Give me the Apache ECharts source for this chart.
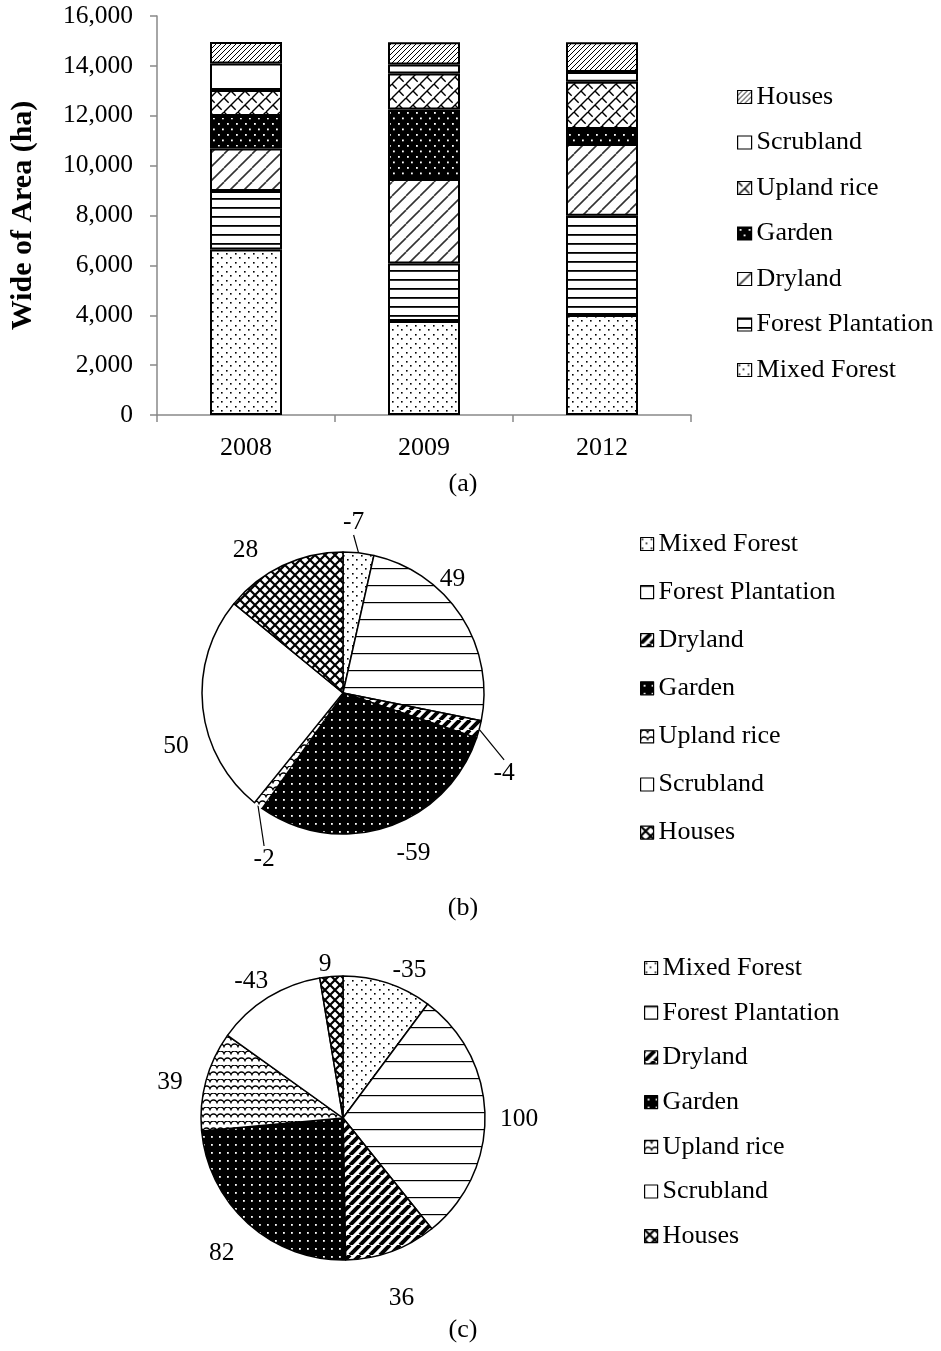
<!DOCTYPE html>
<html>
<head>
<meta charset="utf-8">
<script src="https://cdn.jsdelivr.net/npm/echarts@6/dist/echarts.min.js"></script>
<style>
  html, body { margin: 0; padding: 0; background: #fff; }
  .panel { position: absolute; left: 0; width: 941px; }
  #chartA { top: 0; height: 500px; }
  #chartB { top: 500px; height: 425px; }
  #chartC { top: 925px; height: 426px; }
</style>
</head>
<body>
<div id="chartA" class="panel"></div>
<div id="chartB" class="panel"></div>
<div id="chartC" class="panel"></div>
<script>
// (a) land cover area per year, ha
const years = ['2008', '2009', '2012']
const landTypes = ['Mixed Forest', 'Forest Plantation', 'Dryland', 'Garden', 'Upland rice', 'Scrubland', 'Houses']
const mixedForest = [6640, 3770, 4010]
const forestPlantation = [2340, 2310, 3980]
const dryland = [1710, 3380, 2875]
const garden = [1300, 2790, 600]
const uplandRice = [1040, 1445, 1900]
const scrubland = [1070, 360, 385]
const houses = [860, 895, 1200]
const yMax = 16000
const yStep = 2000

// (b) and (c) change values shown on the pies
const changeB = [-7, 49, -4, -59, -2, 50, 28]
const changeC = [-35, 100, 36, 82, 39, -43, 9]

// label nudges (px) so the numbers sit where the original put them
const nudgeB = [[-23, -9], [-45, -25], [-12, 38], [-2, 5], [35, 36], [13, 37], [-10, 5]]
const nudgeC = [[-7, 8], [-12, 4], [-15, 26], [6, 13], [3, 7], [17, 3], [7, 10]]

const FONT = '"Liberation Serif", "Times New Roman", serif'

// small canvas tiles used as fill patterns
function makePattern(w, h, bg, draw) {
  const c = document.createElement('canvas')
  c.width = w
  c.height = h
  const g = c.getContext('2d')
  g.fillStyle = bg
  g.fillRect(0, 0, w, h)
  g.fillStyle = '#000'
  g.strokeStyle = '#000'
  draw(g, w, h)
  return { image: c, repeat: 'repeat' }
}

function dots(pts, size, color) {
  return (g) => {
    g.fillStyle = color
    pts.forEach(([x, y]) => g.fillRect(x, y, size, size))
  }
}

function slash(lw, color) {
  return (g, w, h) => {
    g.strokeStyle = color
    g.lineWidth = lw
    for (let k = -1; k <= 1; k += 1) {
      g.beginPath()
      g.moveTo(k * w, h)
      g.lineTo(k * w + w, 0)
      g.stroke()
    }
  }
}

function hlines(lw) {
  return (g, w) => g.fillRect(0, 0, w, lw)
}

function crossDiag(lw) {
  return (g, w, h) => {
    g.lineWidth = lw
    for (let k = -1; k <= 1; k += 1) {
      g.beginPath()
      g.moveTo(k * w, h)
      g.lineTo(k * w + w, 0)
      g.moveTo(k * w, 0)
      g.lineTo(k * w + w, h)
      g.stroke()
    }
  }
}

function shingle(g, w, h) {
  slash(1.4, '#000')(g, w, h)
  g.lineWidth = 1.4
  g.beginPath()
  g.moveTo(0, 0)
  g.lineTo(w / 3, h / 3)
  g.moveTo(w / 2, h / 2)
  g.lineTo(w * 5 / 6, h * 5 / 6)
  g.stroke()
}

function waves(g, w, h) {
  g.lineWidth = 1.3
  const r = w / 4
  ;[h / 4, h * 3 / 4].forEach((y, row) => {
    const off = row ? w / 2 : 0
    g.beginPath()
    for (let x = -w + off; x < w * 2; x += w / 2) {
      g.moveTo(x, y)
      g.arc(x + r, y, r, Math.PI, 0, false)
    }
    g.stroke()
  })
}

const barFills = [
  makePattern(9, 9, '#fff', dots([[1, 1], [5, 5]], 1.6, '#000')),
  makePattern(4, 9, '#fff', hlines(1.8)),
  makePattern(14, 14, '#fff', slash(1.6, '#333')),
  makePattern(9, 11, '#000', dots([[2, 2], [6, 7.5]], 1.8, '#fff')),
  makePattern(14, 14, '#fff', shingle),
  '#fff',
  makePattern(5, 5, '#fff', slash(1, '#000')),
]

const pieFills = [
  makePattern(9, 9, '#fff', dots([[1, 1], [5, 5]], 1.6, '#000')),
  makePattern(4, 17, '#fff', hlines(1.2)),
  makePattern(10, 10, '#fff', slash(4, '#000')),
  makePattern(8, 8, '#000', dots([[3, 3]], 1.8, '#fff')),
  makePattern(14, 14, '#fff', waves),
  '#fff',
  makePattern(10, 10, '#fff', crossDiag(2.2)),
]

// ---------- (a) stacked bars ----------
const barValues = [mixedForest, forestPlantation, dryland, garden, uplandRice, scrubland, houses]

const chartA = echarts.init(document.getElementById('chartA'))
chartA.setOption({
  animation: false,
  textStyle: { fontFamily: FONT },
  grid: { left: 155, top: 16, width: 536, height: 399 },
  legend: {
    orient: 'vertical',
    left: 737,
    top: 84,
    padding: 0,
    itemWidth: 14,
    itemHeight: 13,
    itemGap: 19.5,
    icon: 'rect',
    data: landTypes.slice().reverse(),
    textStyle: { fontFamily: FONT, fontSize: 26, color: '#000', lineHeight: 25 },
    itemStyle: { borderColor: '#000', borderWidth: 1.2 },
  },
  xAxis: {
    type: 'category',
    data: years,
    axisLine: { lineStyle: { color: '#898989', width: 1.5 } },
    axisTick: { show: true, length: 7, lineStyle: { color: '#898989', width: 1.5 } },
    axisLabel: { fontFamily: FONT, fontSize: 26, color: '#000', margin: 20 },
  },
  yAxis: {
    type: 'value',
    min: 0,
    max: yMax,
    interval: yStep,
    name: 'Wide of Area (ha)',
    nameLocation: 'middle',
    nameGap: 119,
    nameTextStyle: { fontFamily: FONT, fontSize: 30, fontWeight: 'bold', color: '#000' },
    axisLine: { show: true, lineStyle: { color: '#898989', width: 1.5 } },
    axisTick: { show: true, length: 7, lineStyle: { color: '#898989', width: 1.5 } },
    splitLine: { show: false },
    axisLabel: {
      fontFamily: FONT,
      fontSize: 25.5,
      color: '#000',
      margin: 24,
      formatter: (v) => v.toLocaleString('en-US'),
    },
  },
  series: landTypes.map((name, i) => ({
    name,
    type: 'bar',
    stack: 'area',
    barWidth: 72,
    data: barValues[i],
    itemStyle: { color: barFills[i], borderColor: '#000', borderWidth: 2 },
  })),
  graphic: [{
    type: 'text',
    x: 463,
    y: 484,
    style: { text: '(a)', fontFamily: FONT, fontSize: 26, fill: '#000', align: 'center', verticalAlign: 'middle' },
  }],
})

// ---------- (b) and (c) pies ----------
function pieOption(changes, nudges, radius, legendLeft, legendTop, legendGap, caption, captionY, borderless) {
  return {
    animation: false,
    textStyle: { fontFamily: FONT },
    legend: {
      orient: 'vertical',
      left: legendLeft,
      top: legendTop,
      padding: 0,
      itemWidth: 13,
      itemHeight: 13,
      itemGap: legendGap,
      icon: 'rect',
      data: landTypes,
      textStyle: { fontFamily: FONT, fontSize: 26, color: '#000', lineHeight: 25 },
      itemStyle: { borderColor: '#000', borderWidth: 1.2 },
    },
    series: [{
      type: 'pie',
      center: [343, 193],
      radius,
      startAngle: 90,
      clockwise: true,
      avoidLabelOverlap: false,
      itemStyle: { borderColor: '#000', borderWidth: 1.5 },
      label: {
        show: true,
        position: 'outside',
        fontFamily: FONT,
        fontSize: 25.5,
        color: '#000',
        formatter: (p) => String(changes[p.dataIndex]),
      },
      labelLine: { show: false, length: 14, length2: 0, lineStyle: { color: '#000', width: 1.2 } },
      // keep the library's label box, shift it, and let the guide line reconnect
      labelLayout: (p) => {
        const r = p.labelRect
        const [dx, dy] = nudges[p.dataIndex]
        return {
          x: r.x + r.width / 2 + dx,
          y: r.y + r.height / 2 + dy,
          align: 'center',
          verticalAlign: 'middle',
        }
      },
      data: landTypes.map((name, i) => ({
        name,
        value: Math.abs(changes[i]),
        itemStyle: borderless === name
          ? { color: pieFills[i], borderWidth: 0 }
          : { color: pieFills[i] },
        labelLine: { show: Math.abs(changes[i]) < 8, length: 22, length2: 0 },
      })),
    }],
    graphic: [{
      type: 'text',
      x: 463,
      y: captionY,
      style: { text: caption, fontFamily: FONT, fontSize: 26, fill: '#000', align: 'center', verticalAlign: 'middle' },
    }],
  }
}

const chartB = echarts.init(document.getElementById('chartB'))
chartB.setOption(pieOption(changeB, nudgeB, 141, 640, 31, 22.1, '(b)', 408, 'Upland rice'))

const chartC = echarts.init(document.getElementById('chartC'))
chartC.setOption(pieOption(changeC, nudgeC, 142, 644, 30, 18.7, '(c)', 405, null))
</script>
</body>
</html>
